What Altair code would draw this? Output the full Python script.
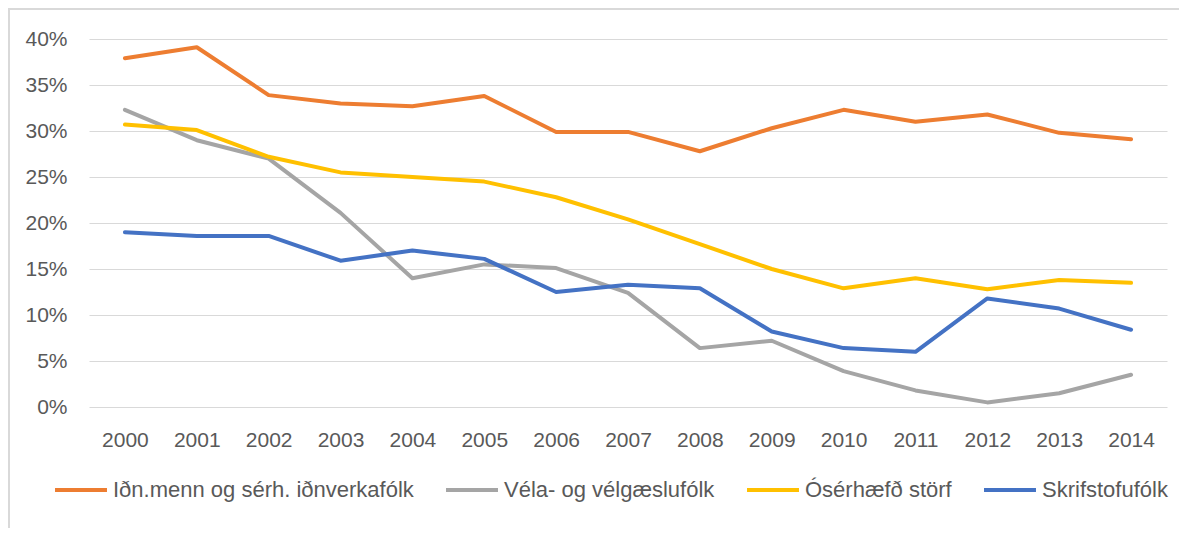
import altair as alt
import pandas as pd

years = [str(y) for y in range(2000, 2015)]
series_names = ["Iðn.menn og sérh. iðnverkafólk", "Véla- og vélgæslufólk",
                "Ósérhæfð störf", "Skrifstofufólk"]
idnmenn = [37.9, 39.1, 33.9, 33.0, 32.7, 33.8, 29.9, 29.9, 27.8, 30.3, 32.3, 31.0, 31.8, 29.8, 29.1]
vela = [32.3, 29.0, 27.0, 21.1, 14.0, 15.5, 15.1, 12.4, 6.4, 7.2, 3.9, 1.8, 0.5, 1.5, 3.5]
oserhaefd = [30.7, 30.1, 27.2, 25.5, 25.0, 24.5, 22.8, 20.4, 17.7, 15.0, 12.9, 14.0, 12.8, 13.8, 13.5]
skrifstofa = [19.0, 18.6, 18.6, 15.9, 17.0, 16.1, 12.5, 13.3, 12.9, 8.2, 6.4, 6.0, 11.8, 10.7, 8.4]
colors = ["#ED7D31", "#A5A5A5", "#FFC000", "#4472C4"]

rows = []
for name, vals in zip(series_names, [idnmenn, vela, oserhaefd, skrifstofa]):
    for yr, v in zip(years, vals):
        rows.append({"Ár": yr, "Hópur": name, "Hlutfall": v / 100})
df = pd.DataFrame(rows)

FONT = "Liberation Sans"
TXT = "#595959"
FRAME = "#D9D9D9"

lines = alt.Chart(df).mark_line(strokeWidth=4, strokeJoin="round", strokeCap="round").encode(
    x=alt.X("Ár:N", sort=years, title=None,
            scale=alt.Scale(paddingInner=0, paddingOuter=0.5),
            axis=alt.Axis(labelAngle=0, ticks=False, domain=False, grid=False,
                          labelPadding=22, labelFontSize=21, labelColor=TXT, labelFont=FONT)),
    y=alt.Y("Hlutfall:Q", title=None,
            scale=alt.Scale(domain=[0, 0.4], nice=False),
            axis=alt.Axis(format=".0%", values=[0, 0.05, 0.1, 0.15, 0.2, 0.25, 0.3, 0.35, 0.4],
                          ticks=False, domain=False, gridColor="#D9D9D9", gridWidth=1,
                          labelPadding=22, labelFontSize=21, labelColor=TXT, labelFont=FONT)),
    color=alt.Color("Hópur:N", sort=series_names,
                    scale=alt.Scale(domain=series_names, range=colors),
                    legend=alt.Legend(title=None, orient="none", direction="horizontal",
                                      legendX=-36, legendY=423,
                                      symbolType="stroke", symbolSize=2700, symbolStrokeWidth=4,
                                      labelFontSize=22, labelColor=TXT, labelFont=FONT,
                                      labelOffset=4, columnPadding=24, labelLimit=500)),
)

frame_df = pd.DataFrame({"k": [0]})
frame_top = alt.Chart(frame_df).mark_rule(color=FRAME, strokeWidth=2).encode(
    x=alt.value(-81), x2=alt.value(1090), y=alt.value(-30))
frame_left = alt.Chart(frame_df).mark_rule(color=FRAME, strokeWidth=2).encode(
    x=alt.value(-80), y=alt.value(-31), y2=alt.value(510))

chart = alt.layer(frame_top, frame_left, lines).properties(
    width=1078, height=368,
    autosize=alt.AutoSizeParams(type="none"),
    padding={"left": 81, "top": 31, "right": 12, "bottom": 121},
).configure_view(stroke=None)

chart.save("out.html", embed_options={"renderer": "svg", "actions": False})
